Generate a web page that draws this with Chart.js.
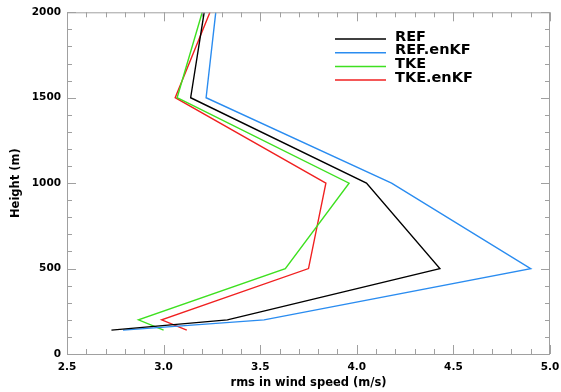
<!DOCTYPE html>
<html>
<head>
<meta charset="utf-8">
<script src="https://cdn.jsdelivr.net/npm/chart.js@4"></script>
<style>
  html, body { margin: 0; padding: 0; background: #fff; }
  #wrap { width: 561px; height: 392px; }
</style>
</head>
<body>
<div id="wrap"><canvas id="grafico" width="561" height="392"></canvas></div>
<script>
// alturas (m) e rms da velocidade do vento (m/s) por experimento
const heights = [140, 200, 500, 1000, 1500, 2000];
const ref     = [2.73, 3.33, 4.43, 4.05, 3.14, 3.21];
const refEnkf = [2.79, 3.52, 4.90, 4.18, 3.22, 3.27];
const tke     = [3.00, 2.87, 3.63, 3.96, 3.07, 3.20];
const tkeEnkf = [3.12, 2.99, 3.75, 3.84, 3.06, 3.24];

const seriesNames = ['REF', 'REF.enKF', 'TKE', 'TKE.enKF'];
const seriesColors = ['#000000', '#2a8cf0', '#3ee020', '#f02020'];
const seriesData = [ref, refEnkf, tke, tkeEnkf];

const FONT = '"DejaVu Sans", sans-serif';

function pontos (xs) {
    return xs.map((x, i) => ({ x: x, y: heights[i] }));
}

// moldura com marcas para dentro nos quatro lados + legenda dentro do grafico
const molduraPlugin = {
    id: 'moldura',
    afterDraw (chart) {
        const ctx = chart.ctx;
        const a = chart.chartArea;
        const sx = chart.scales.x, sy = chart.scales.y;
        ctx.save();
        ctx.strokeStyle = '#a0a0a0';
        ctx.lineWidth = 1;
        ctx.strokeRect(a.left + 0.5, a.top + 0.5, a.right - a.left - 1, a.bottom - a.top);

        ctx.beginPath();
        for (let i = 0; i <= 25; i++) {
            const v = 2.5 + i * 0.1;
            const px = Math.round(sx.getPixelForValue(v)) + 0.5;
            const len = (i % 5 === 0) ? 9 : 5;
            ctx.moveTo(px, a.bottom); ctx.lineTo(px, a.bottom - len);
            ctx.moveTo(px, a.top); ctx.lineTo(px, a.top + len);
        }
        for (let i = 0; i <= 20; i++) {
            const v = i * 100;
            const py = Math.round(sy.getPixelForValue(v)) + 0.5;
            const len = (i % 5 === 0) ? 9 : 5;
            ctx.moveTo(a.left, py); ctx.lineTo(a.left + len, py);
            ctx.moveTo(a.right, py); ctx.lineTo(a.right - len, py);
        }
        ctx.stroke();

        // legenda
        ctx.font = 'bold 14.5px ' + FONT;
        ctx.textBaseline = 'middle';
        chart.data.datasets.forEach((ds, i) => {
            const y = 39 + i * 13.7;
            ctx.strokeStyle = ds.borderColor;
            ctx.lineWidth = 1.5;
            ctx.beginPath();
            ctx.moveTo(335, y);
            ctx.lineTo(386, y);
            ctx.stroke();
            ctx.fillStyle = '#000';
            ctx.fillText(ds.label, 395, y - 2);
        });
        ctx.restore();
    }
};

const ctx = document.getElementById('grafico').getContext('2d');

new Chart(ctx, {
    type: 'scatter',
    data: {
        datasets: seriesNames.map((nome, i) => ({
            label: nome,
            data: pontos(seriesData[i]),
            showLine: true,
            borderColor: seriesColors[i],
            backgroundColor: seriesColors[i],
            borderWidth: 1.4,
            pointRadius: 0,
            tension: 0
        }))
    },
    options: {
        responsive: false,
        animation: false,
        layout: { padding: { top: 11, right: 11, left: 0, bottom: 0 } },
        plugins: {
            legend: { display: false },
            tooltip: { enabled: false }
        },
        scales: {
            x: {
                type: 'linear',
                min: 2.5,
                max: 5.0,
                grid: { display: false, drawTicks: false },
                border: { display: false },
                ticks: {
                    stepSize: 0.5,
                    padding: 7,
                    color: '#000',
                    font: { family: FONT, size: 10.5, weight: 'bold' },
                    callback: v => v.toFixed(1),
                    maxRotation: 0
                },
                title: {
                    display: true,
                    text: 'rms in wind speed (m/s)',
                    color: '#000',
                    font: { family: FONT, size: 11.5, weight: 'bold' },
                    padding: { top: 0, bottom: 2 }
                },
                afterFit: scale => {
                    scale.height = 38;
                    scale.paddingLeft = 0;
                    scale.paddingRight = 0;
                }
            },
            y: {
                type: 'linear',
                min: 0,
                max: 2000,
                grid: { display: false, drawTicks: false },
                border: { display: false },
                ticks: {
                    stepSize: 500,
                    padding: 6,
                    color: '#000',
                    font: { family: FONT, size: 10.5, weight: 'bold' },
                    callback: v => String(v)
                },
                title: {
                    display: true,
                    text: 'Height (m)',
                    color: '#000',
                    font: { family: FONT, size: 11.5, weight: 'bold' },
                    padding: { top: 9, bottom: 0 }
                },
                afterFit: scale => { scale.width = 67; }
            }
        }
    },
    plugins: [molduraPlugin]
});
</script>
</body>
</html>
